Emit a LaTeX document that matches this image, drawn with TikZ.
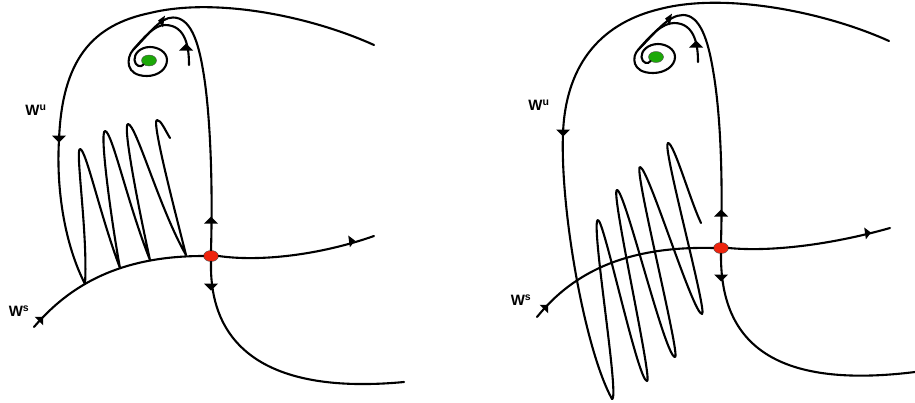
\documentclass[tikz,border=0pt]{standalone}
\usepackage{fontspec}
\setmainfont{Liberation Sans}
\usetikzlibrary{shapes.geometric}
\definecolor{saddlered}{RGB}{238,36,14}
\definecolor{focusgreen}{RGB}{28,168,8}
\tikzset{
  saddlept/.style={draw=black!70, line width=0.4pt, ellipse, fill=saddlered, minimum width=15pt, minimum height=11pt, inner sep=0pt},
  focuspt/.style={draw=black!70, line width=0.4pt, ellipse, fill=focusgreen, minimum width=15pt, minimum height=11pt, inner sep=0pt},
  manifold/.style={line width=2.1pt, line cap=round, line join=round},
  lbl/.style={inner sep=0pt, font=\fontsize{15}{15}\selectfont\bfseries}
}
\newcommand{\flowtip}[4][1]{\fill[shift={(#2,#3)},rotate=#4,scale=#1] (-3.5,-7) -- (3.5,0) -- (-3.5,7) -- cycle;}
\begin{document}
\begin{tikzpicture}[x=1pt,y=-1pt]
\useasboundingbox (0,0) rectangle (915,402);
% left panel
\node[saddlept] (saddleL) at (211,256) {};
\node[focuspt] (focusL) at (149,60.5) {};
\coordinate (wuEndL) at (374,45);
\coordinate (foldStartL) at (85,284);
\coordinate (foldEndL) at (170,138);
\coordinate (innerEndL) at (189,65);
\coordinate (spiralL) at (133,50);
\coordinate (wsEndL) at (34,327);
\coordinate (eastEndL) at (374,236);
\coordinate (southEndL) at (404,382);
\draw[manifold] (saddleL.north) .. controls (213,180) and (210,110) .. (203,70) .. controls (198,40) and (190,17.5) .. (173,17.5) .. controls (160,17.5) and (150,33) .. (spiralL);
\draw[manifold] (spiralL) .. controls (126,58) and (125,76) .. (147,76) .. controls (158,76) and (167,69) .. (167,60) .. controls (167,52) and (158,47) .. (150,47) .. controls (140,47) and (134,54) .. (134.5,60) .. controls (135,66) and (141,68) .. (focusL.south west);
\draw[manifold] (innerEndL) .. controls (189,50) and (187,25) .. (165,25) .. controls (155,25) and (145,36) .. (spiralL);
\draw[manifold] (wuEndL) .. controls (310,16) and (215,-3) .. (150,13) .. controls (92,25) and (62,60) .. (59,140) .. controls (56,190) and (65,245) .. (foldStartL);
\draw[manifold] (foldStartL) .. controls (88,235) and (75,149) .. (80,149) .. controls (86,149) and (100,215) .. (120,268)
  .. controls (112,225) and (99,131) .. (105,131) .. controls (112,131) and (128,205) .. (150,260)
  .. controls (140,215) and (122,124) .. (128,124) .. controls (136,124) and (160,210) .. (186,255)
  .. controls (176,215) and (151,120) .. (157,120) .. controls (161,120) and (165,130) .. (foldEndL);
\draw[manifold] (wsEndL) .. controls (70,285) and (120,256) .. (saddleL.west);
\draw[manifold] (saddleL.east) .. controls (260,262) and (320,255) .. (eastEndL);
\draw[manifold] (saddleL.south) .. controls (209,345) and (265,395) .. (southEndL);
\flowtip{59}{139}{-90}
\flowtip{211}{220}{90}
\flowtip{211}{287}{-90}
\flowtip[0.85]{352}{241}{8}
\flowtip[0.85]{41}{319}{45}
\flowtip[0.85]{161}{21}{170}
\flowtip{186}{47}{90}
\node[lbl] (wuL) at (36,110) {W\textsuperscript{u}};
\node[lbl] (wsL) at (19,311) {W\textsuperscript{s}};
% right panel
\node[saddlept] (saddleR) at (721,248) {};
\node[focuspt] (focusR) at (656,57) {};
\coordinate (wuEndR) at (889,41);
\coordinate (foldStartR) at (612,399);
\coordinate (foldEndR) at (701,223);
\coordinate (innerEndR) at (698,62);
\coordinate (spiralR) at (638,50);
\coordinate (wsEndR) at (537,317);
\coordinate (eastEndR) at (890,228);
\coordinate (southEndR) at (915,372);
\draw[manifold] (saddleR.north) .. controls (723,170) and (720,110) .. (713,70) .. controls (708,40) and (700,15) .. (683,15) .. controls (668,15) and (655,33) .. (spiralR);
\draw[manifold] (spiralR) .. controls (632,56) and (631,73) .. (653,73) .. controls (665,73) and (675,66) .. (675,57) .. controls (675,49) and (666,44) .. (658,44) .. controls (648,44) and (641,51) .. (641.5,57) .. controls (642,63) and (648,65) .. (focusR.south west);
\draw[manifold] (innerEndR) .. controls (698,48) and (696,23) .. (674,23) .. controls (662,23) and (650,36) .. (spiralR);
\draw[manifold] (wuEndR) .. controls (825,12) and (725,-8) .. (660,9) .. controls (605,22) and (566,60) .. (563,133) .. controls (560,210) and (585,350) .. (foldStartR);
\draw[manifold] (foldStartR) .. controls (620,399) and (590,220) .. (598,220) .. controls (604,220) and (638,381) .. (647,381)
  .. controls (653,381) and (610,190) .. (617,190) .. controls (625,190) and (665,357) .. (675,357)
  .. controls (681,357) and (633,167) .. (640,167) .. controls (648,167) and (693,314) .. (702,314)
  .. controls (708,314) and (661,143) .. (668,143) .. controls (674,143) and (690,200) .. (foldEndR);
\draw[manifold] (wsEndR) .. controls (575,270) and (630,246) .. (saddleR.west);
\draw[manifold] (saddleR.east) .. controls (770,252) and (830,245) .. (eastEndR);
\draw[manifold] (saddleR.south) .. controls (720,340) and (770,390) .. (southEndR);
\flowtip{563}{133}{-90}
\flowtip{721}{213}{90}
\flowtip{721}{278}{-90}
\flowtip[0.85]{868}{233}{8}
\flowtip[0.85]{546}{307}{45}
\flowtip[0.85]{668}{19}{170}
\flowtip{696}{44}{90}
\node[lbl] (wuR) at (539,105) {W\textsuperscript{u}};
\node[lbl] (wsR) at (521,300) {W\textsuperscript{s}};
\end{tikzpicture}
\end{document}
